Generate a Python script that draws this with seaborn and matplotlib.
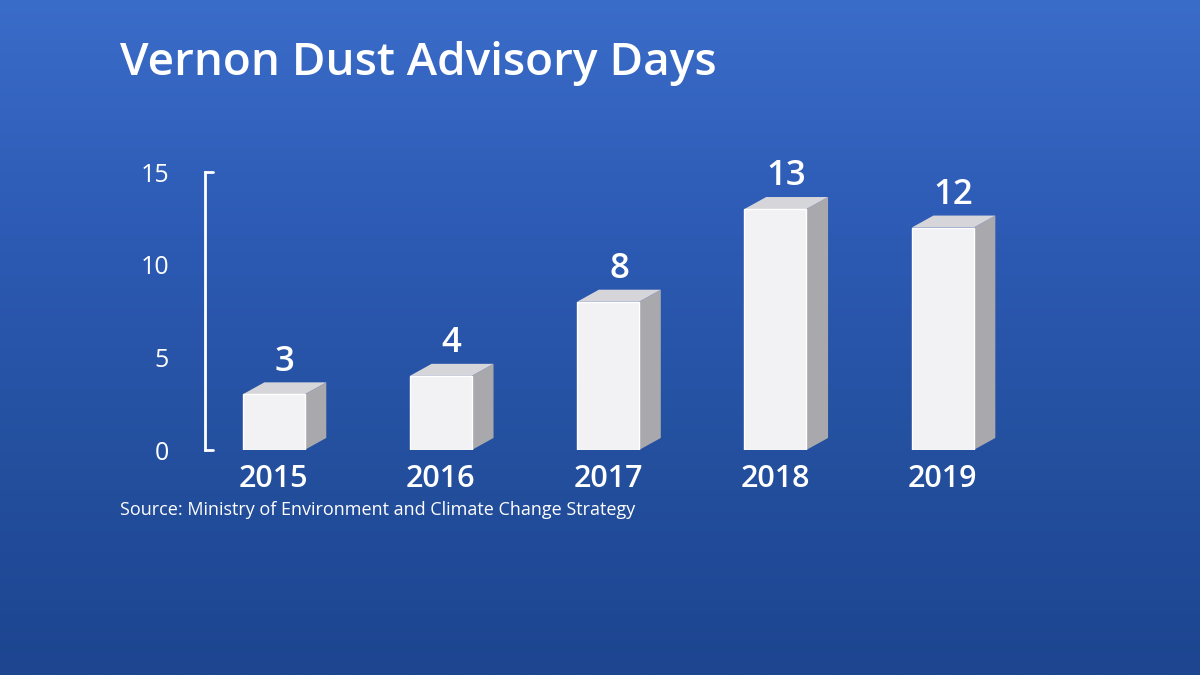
import numpy as np
import pandas as pd
import seaborn as sns
import matplotlib.pyplot as plt
from matplotlib.patches import Polygon

years = ["2015", "2016", "2017", "2018", "2019"]
days = [3, 4, 8, 13, 12]
y_ticks = [0, 5, 10, 15]

sns.set_theme(style="white")
plt.rcParams["font.family"] = ["Open Sans", "DejaVu Sans"]

fig = plt.figure(figsize=(12, 6.75), dpi=100)

# background gradient (stand-in for the photo)
bg = fig.add_axes([0, 0, 1, 1])
grad = np.linspace(0, 1, 256).reshape(-1, 1)
cmap = sns.blend_palette(["#3a6cc9", "#2d5bb5", "#24509f", "#1d4590"], as_cmap=True)
bg.imshow(grad, aspect="auto", cmap=cmap, extent=[0, 1, 0, 1])
bg.axis("off")

W, H = 1200, 675
left, right, bottom, top = 205, 1043, 450, 172
ax = fig.add_axes([left / W, 1 - bottom / H, (right - left) / W, (bottom - top) / H])
ax.patch.set_alpha(0)

df = pd.DataFrame({"year": years, "days": days})
sns.barplot(data=df, x="year", y="days", color="#f2f2f4", width=0.37,
            saturation=1, ax=ax, zorder=3)
ax.set_xlim(-0.41, 4.6)
ax.set_ylim(0, 15)

dx, dy = 0.13, 0.65
for p in ax.patches:
    x0, w, h = p.get_x(), p.get_width(), p.get_height()
    x1 = x0 + w
    side = Polygon([(x1, 0), (x1 + dx, dy), (x1 + dx, h + dy), (x1, h)],
                   closed=True, fc="#a8a8ad", ec="none", zorder=2, clip_on=False)
    topf = Polygon([(x0, h), (x0 + dx, h + dy), (x1 + dx, h + dy), (x1, h)],
                   closed=True, fc="#d6d6da", ec="none", zorder=2, clip_on=False)
    ax.add_patch(side)
    ax.add_patch(topf)
    ax.text(x0 + w / 2 + dx / 2, h + dy + 0.2, f"{int(h)}", ha="center", va="bottom",
            color="white", fontsize=25, fontweight="semibold", clip_on=False)

for s in ["top", "right", "bottom"]:
    ax.spines[s].set_visible(False)
ax.spines["left"].set_color("white")
ax.spines["left"].set_linewidth(2)
ax.set_yticks(y_ticks)
ax.set_yticklabels([str(t) for t in y_ticks], color="white", fontsize=18)
ax.tick_params(axis="y", length=0, pad=26)
for yv in [0, 15]:
    ax.plot([-0.41, -0.36], [yv, yv], color="white", lw=2, clip_on=False)
ax.set_xticks(range(len(years)))
ax.set_xticklabels(years, color="white", fontsize=22, fontweight="semibold")
ax.tick_params(axis="x", length=0, pad=10)
ax.set_xlabel("")
ax.set_ylabel("")

fig.text(120 / W, 1 - 64 / H, "Vernon Dust Advisory Days", color="white",
         fontsize=33, fontweight="semibold", va="center", ha="left")
fig.text(120 / W, 1 - 510 / H, "Source: Ministry of Environment and Climate Change Strategy",
         color="white", fontsize=13, va="center", ha="left")

fig.savefig("out.png", dpi=100)
